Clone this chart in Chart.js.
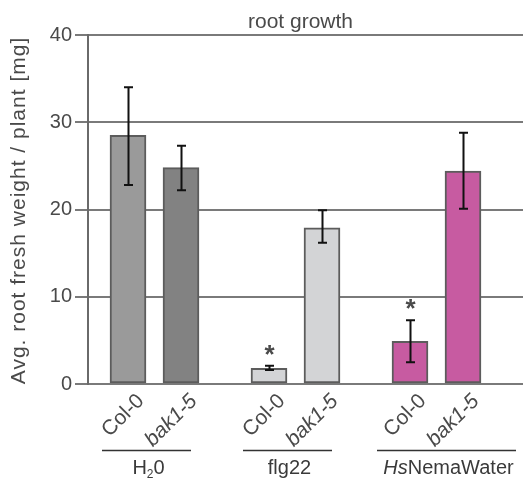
<!DOCTYPE html>
<html>
<head>
<meta charset="utf-8">
<script src="https://cdn.jsdelivr.net/npm/chart.js@4.4.0/dist/chart.umd.min.js"></script>
<style>
  html, body { margin: 0; padding: 0; background: #ffffff; }
  #wrap { width: 523px; height: 479px; position: relative; }
</style>
</head>
<body>
<div id="wrap"><canvas id="chart"></canvas></div>
<script>
// Root fresh weight per plant, two genotypes under three treatments
const treatments = ['H₂0', 'flg22', 'HsNemaWater'];
const genotypes = ['Col-0', 'bak1-5'];
const meanWeight = [28.5, 24.8, 1.8, 17.9, 4.9, 24.4];   // mg, order: treatment x genotype
const errLower   = [22.8, 22.2, 1.6, 16.2, 2.5, 20.1];
const errUpper   = [34.0, 27.3, 2.1, 19.9, 7.3, 28.8];
const significant = [false, false, true, false, true, false];
const yTicks = [0, 10, 20, 30, 40];

// Styling
const FONT = "'Liberation Sans', Arial, Helvetica, sans-serif";
const TEXT = '#4a4a4a';
const barFill = ['#9a9a9a', '#828282', '#d3d4d6', '#d3d4d6', '#c75ba1', '#c75ba1'];
const barEdge = '#5c5c5c';

// Bar placement along the horizontal axis (group spacing and spacing within a group)
const groupStep = 141, barStep = 53, firstBar = 40;
const barPos = [];
treatments.forEach((t, g) => genotypes.forEach((gt, i) => barPos.push(firstBar + g * groupStep + i * barStep)));
const groupLine = [[-26, 10], [-26, 10], [-33, 53]];

const points = meanWeight.map((v, k) => ({ x: barPos[k], y: v }));

const annotate = {
  id: 'annotate',
  afterDatasetsDraw(chart) {
    const { ctx, scales: { x, y } } = chart;
    const meta = chart.getDatasetMeta(0);
    ctx.save();
    // error bars
    ctx.strokeStyle = '#111';
    ctx.lineWidth = 2;
    meta.data.forEach((bar, k) => {
      const cx = Math.round(bar.x) + 0.5;
      const yt = y.getPixelForValue(errUpper[k]);
      const yb = y.getPixelForValue(errLower[k]);
      ctx.beginPath();
      ctx.moveTo(cx, yt); ctx.lineTo(cx, yb);
      ctx.moveTo(cx - 4.5, yt); ctx.lineTo(cx + 4.5, yt);
      ctx.moveTo(cx - 4.5, yb); ctx.lineTo(cx + 4.5, yb);
      ctx.stroke();
      if (significant[k]) {
        ctx.font = 'bold 26px ' + FONT;
        ctx.fillStyle = TEXT;
        ctx.textAlign = 'center';
        ctx.textBaseline = 'alphabetic';
        const m = ctx.measureText('*');
        const cy = yt - 16;
        ctx.fillText('*', cx, cy + (m.actualBoundingBoxAscent - m.actualBoundingBoxDescent) / 2);
      }
    });
    ctx.restore();
  },
  afterDraw(chart) {
    const { ctx, scales: { x, y }, chartArea } = chart;
    ctx.save();
    ctx.fillStyle = TEXT;

    // chart title
    ctx.font = '21px ' + FONT;
    ctx.textAlign = 'center';
    ctx.textBaseline = 'alphabetic';
    ctx.fillText('root growth', 300.5, 28);

    // y axis title
    ctx.save();
    ctx.translate(19, (chartArea.top + chartArea.bottom) / 2 + 1);
    ctx.rotate(-Math.PI / 2);
    ctx.font = '21px ' + FONT;
    if ('letterSpacing' in ctx) ctx.letterSpacing = '1px';
    ctx.textAlign = 'center';
    ctx.textBaseline = 'middle';
    ctx.fillText('Avg. root fresh weight / plant [mg]', 0, 0);
    ctx.restore();

    // genotype labels, rotated
    barPos.forEach((p, k) => {
      const name = genotypes[k % genotypes.length];
      const px = x.getPixelForValue(p);
      ctx.save();
      ctx.translate(px + 13, 398);
      ctx.rotate(-Math.PI / 4);
      ctx.font = (name.startsWith('bak') ? 'italic ' : '') + '21px ' + FONT;
      ctx.textAlign = 'right';
      ctx.textBaseline = 'middle';
      ctx.fillText(name, 0, 0);
      ctx.restore();
    });

    // treatment group lines and labels
    treatments.forEach((t, g) => {
      const first = x.getPixelForValue(barPos[g * genotypes.length]);
      const last = x.getPixelForValue(barPos[g * genotypes.length + genotypes.length - 1]);
      const x0 = first + groupLine[g][0];
      const x1 = last + groupLine[g][1];
      ctx.strokeStyle = '#333';
      ctx.lineWidth = 1.5;
      ctx.beginPath();
      ctx.moveTo(x0, 450.5); ctx.lineTo(x1, 450.5);
      ctx.stroke();

      // split label into styled runs: italic species prefix, subscript digit
      let runs;
      if (t.startsWith('Hs')) runs = [{ s: 'Hs', f: 'italic 20px ' + FONT, dy: 0 }, { s: t.slice(2), f: '20px ' + FONT, dy: 0 }];
      else if (t.includes('₂')) {
        const [a, b] = t.split('₂');
        runs = [{ s: a, f: '20px ' + FONT, dy: 0 }, { s: '2', f: '12px ' + FONT, dy: 4 }, { s: b, f: '20px ' + FONT, dy: 0 }];
      } else runs = [{ s: t, f: '20px ' + FONT, dy: 0 }];
      let total = 0;
      runs.forEach(r => { ctx.font = r.f; r.w = ctx.measureText(r.s).width; total += r.w; });
      let cx = (x0 + x1) / 2 + 2 - total / 2;
      ctx.textAlign = 'left';
      ctx.textBaseline = 'alphabetic';
      ctx.fillStyle = '#3a3a3a';
      runs.forEach(r => { ctx.font = r.f; ctx.fillText(r.s, cx, 474 + r.dy); cx += r.w; });
    });
    ctx.restore();
  }
};

new Chart(document.getElementById('chart'), {
  type: 'bar',
  data: {
    datasets: [{
      data: points,
      backgroundColor: barFill,
      borderColor: barEdge,
      borderWidth: 2,
      borderSkipped: false,
      barThickness: 36
    }]
  },
  options: {
    responsive: true,
    maintainAspectRatio: false,
    animation: false,
    events: [],
    layout: { padding: { left: 0, right: 0, top: 35, bottom: 95 } },
    plugins: { legend: { display: false }, title: { display: false }, tooltip: { enabled: false } },
    scales: {
      x: { type: 'linear', min: 0, max: 435, offset: false, display: false },
      y: {
        min: 0, max: 40,
        afterBuildTicks: s => { s.ticks = yTicks.map(v => ({ value: v })); },
        afterFit: s => { s.width = 88; },
        ticks: { font: { family: FONT, size: 20 }, color: TEXT, padding: 3 },
        grid: { color: '#7a7a7a', lineWidth: 2, tickLength: 13, drawTicks: true },
        border: { display: true, color: '#6a6a6a', width: 2 }
      }
    }
  },
  plugins: [annotate]
});
</script>
</body>
</html>
